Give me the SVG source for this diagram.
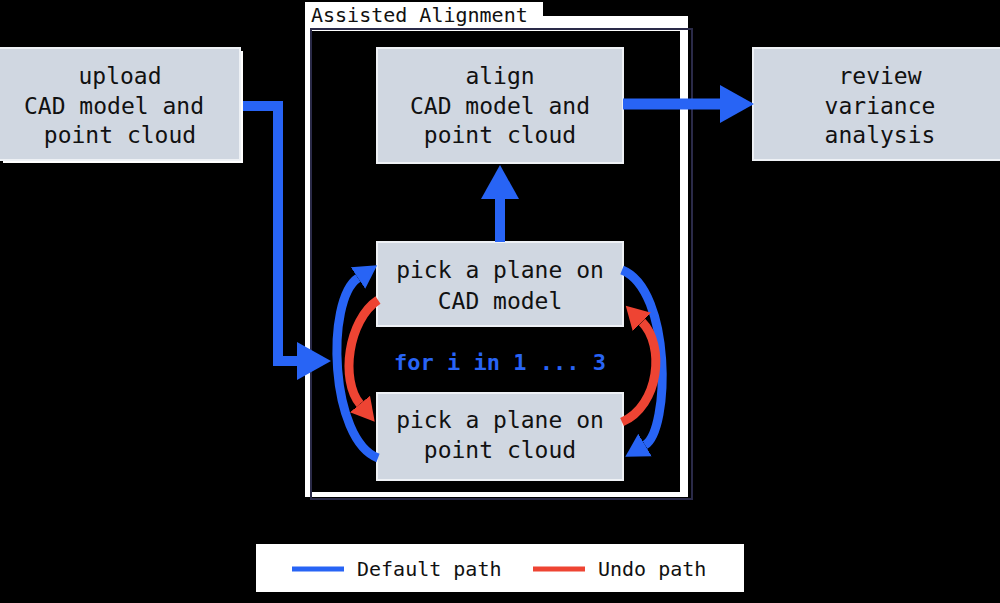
<svg xmlns="http://www.w3.org/2000/svg" width="1000" height="603" viewBox="0 0 1000 603">
  <style>
    .box { fill: #d0d7e1; stroke: #eef1f5; stroke-width: 2; }
    .lbl { font-family: "DejaVu Sans Mono", "Liberation Mono", monospace; font-size: 23px; fill: #111111; text-anchor: middle; }
    .blue { fill: none; stroke: #2864f5; stroke-linejoin: miter; }
    .red { fill: none; stroke: #ee4433; }
    .leg { font-family: "DejaVu Sans Mono", "Liberation Mono", monospace; font-size: 20px; fill: #111111; }
  </style>
  <defs>
    <marker id="bigBlue" markerUnits="userSpaceOnUse" markerWidth="40" markerHeight="44" refX="0" refY="22" orient="auto" viewBox="0 0 40 44">
      <path d="M0,3 L34,22 L0,41 z" fill="#2864f5"/>
    </marker>
    <marker id="arcBlue" markerUnits="userSpaceOnUse" markerWidth="26" markerHeight="30" refX="0" refY="15" orient="auto" viewBox="0 0 26 30">
      <path d="M0,2 L23,15 L0,28 z" fill="#2864f5"/>
    </marker>
    <marker id="arcRed" markerUnits="userSpaceOnUse" markerWidth="26" markerHeight="30" refX="0" refY="15" orient="auto" viewBox="0 0 26 30">
      <path d="M0,2 L23,15 L0,28 z" fill="#ee4433"/>
    </marker>
  </defs>

  <rect x="0" y="0" width="1000" height="603" fill="#000000"/>

  <g id="frame">
    <rect x="305" y="16" width="383" height="481" fill="#ffffff"/>
    <rect x="312" y="31" width="368" height="461" fill="#000000"/>
    <rect x="311" y="29" width="381" height="470" fill="none" stroke="#2a2a48" stroke-width="2"/>
    <rect x="305" y="2" width="238" height="26" fill="#ffffff"/>
    <text x="311" y="22" font-family="DejaVu Sans Mono, Liberation Mono, monospace" font-size="20" fill="#111111">Assisted Alignment</text>
  </g>

  <g id="node-upload">
    <rect x="3" y="51" width="240" height="112" fill="#ffffff"/>
    <rect class="box" x="-2" y="48" width="242" height="112"/>
    <text class="lbl" x="120" y="84">upload</text>
    <text class="lbl" x="114" y="114">CAD model and</text>
    <text class="lbl" x="120" y="143">point cloud</text>
  </g>

  <g id="node-align">
    <rect class="box" x="377" y="48" width="246" height="115"/>
    <text class="lbl" x="500" y="84">align</text>
    <text class="lbl" x="500" y="114">CAD model and</text>
    <text class="lbl" x="500" y="143">point cloud</text>
  </g>

  <g id="node-review">
    <rect class="box" x="753" y="48" width="255" height="112"/>
    <text class="lbl" x="880" y="84">review</text>
    <text class="lbl" x="880" y="114">variance</text>
    <text class="lbl" x="880" y="143">analysis</text>
  </g>

  <g id="node-pick-cad">
    <rect class="box" x="377" y="242" width="246" height="84"/>
    <text class="lbl" x="500" y="278">pick a plane on</text>
    <text class="lbl" x="500" y="309">CAD model</text>
  </g>

  <g id="node-pick-cloud">
    <rect class="box" x="377" y="393" width="246" height="87"/>
    <text class="lbl" x="500" y="428">pick a plane on</text>
    <text class="lbl" x="500" y="458">point cloud</text>
  </g>

  <g id="loop-label">
    <text x="500" y="370" font-family="DejaVu Sans Mono, Liberation Mono, monospace" font-size="22" font-weight="bold" fill="#2864f5" text-anchor="middle">for i in 1 ... 3</text>
  </g>

  <g id="connectors">
    <path class="blue" stroke-width="10" d="M243,106 L278,106 L278,361 L297,361" marker-end="url(#bigBlue)"/>
    <path class="blue" stroke-width="11" d="M623,104 L720,104" marker-end="url(#bigBlue)"/>
    <path class="blue" stroke-width="10" d="M500,242 L500,199" marker-end="url(#bigBlue)"/>
    <path class="blue" stroke-width="9" d="M378,458 C330,440 325,300 358,278" marker-end="url(#arcBlue)"/>
    <path class="blue" stroke-width="9" d="M622,270 C672,290 670,430 645,445" marker-end="url(#arcBlue)"/>
    <path class="red" stroke-width="9" d="M378,300 C348,320 340,380 360,404" marker-end="url(#arcRed)"/>
    <path class="red" stroke-width="9" d="M622,422 C660,405 665,345 642,322" marker-end="url(#arcRed)"/>
  </g>

  <g id="legend">
    <rect x="256" y="544" width="488" height="48" fill="#ffffff"/>
    <line x1="292" y1="569" x2="344" y2="569" stroke="#2864f5" stroke-width="5"/>
    <text class="leg" x="357" y="576">Default path</text>
    <line x1="533" y1="569" x2="585" y2="569" stroke="#ee4433" stroke-width="5"/>
    <text class="leg" x="598" y="576">Undo path</text>
  </g>
</svg>
